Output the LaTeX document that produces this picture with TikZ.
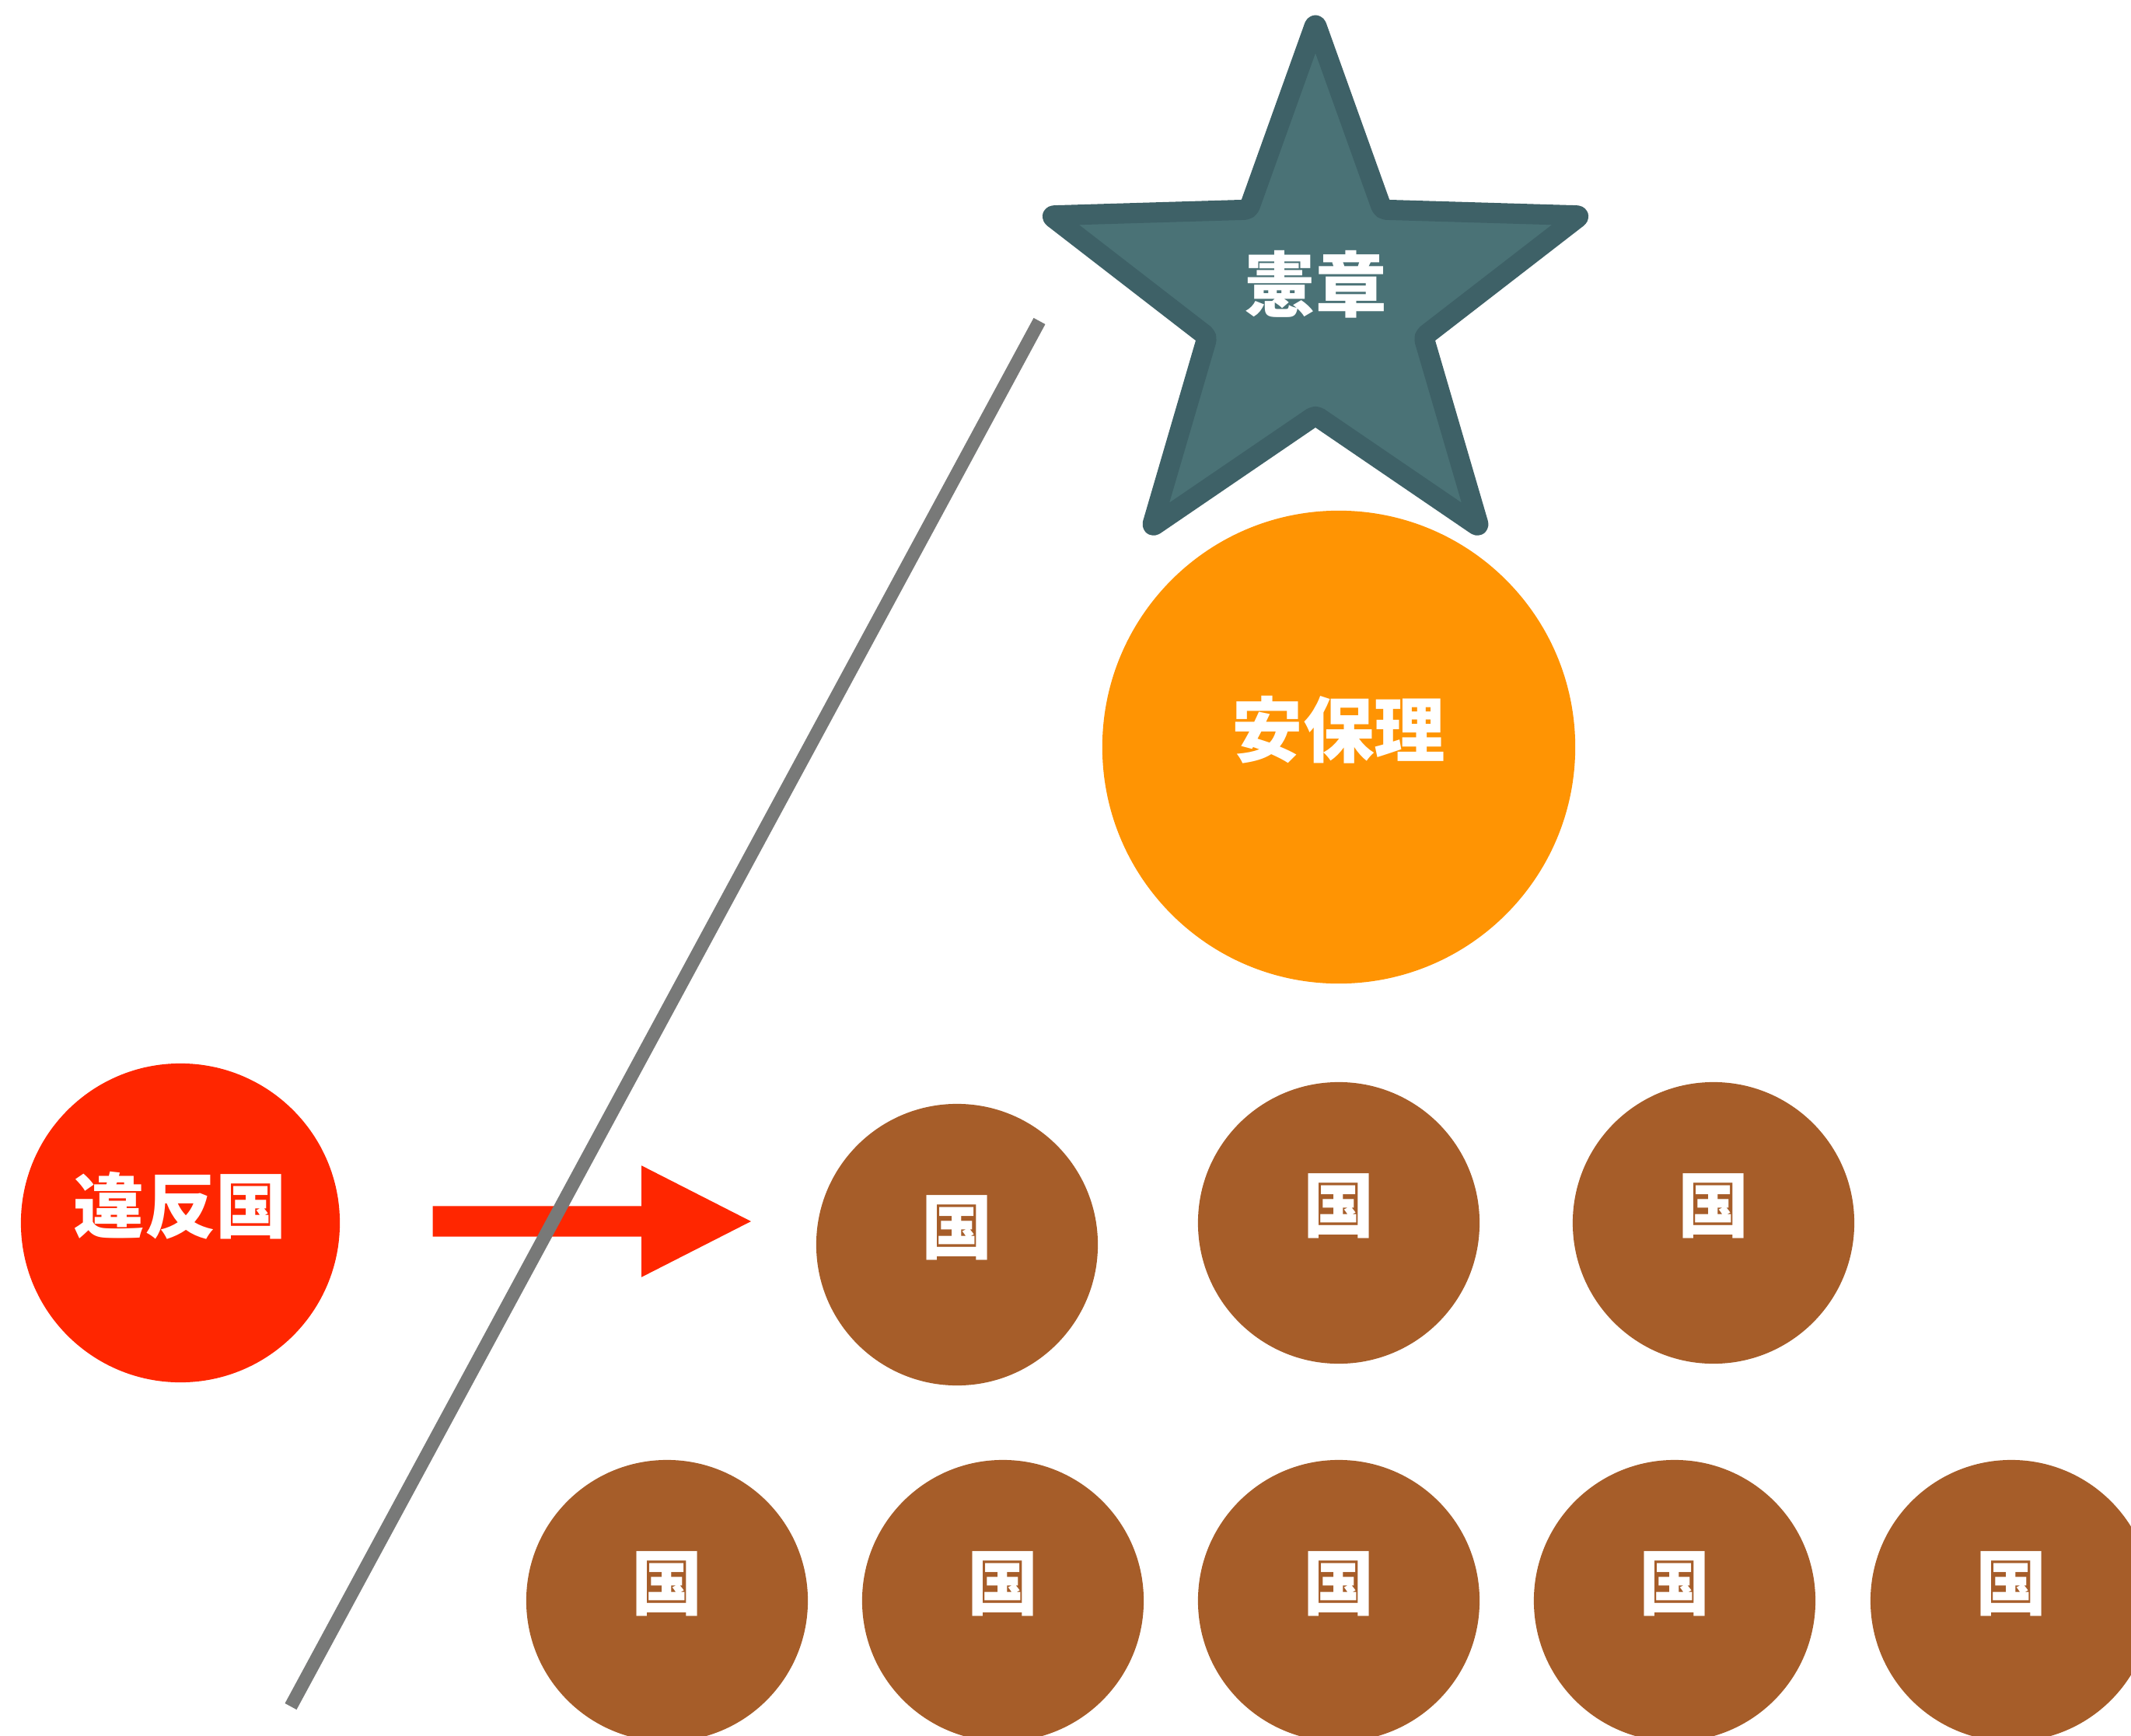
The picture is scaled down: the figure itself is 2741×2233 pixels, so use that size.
\documentclass[tikz,border=0pt]{standalone}
\usepackage{fontspec}
\newfontfamily\jpfont{Noto Sans CJK JP}
\usetikzlibrary{shapes.geometric,shapes.arrows}
\definecolor{starfill}{RGB}{74,114,118}
\definecolor{stardraw}{RGB}{62,97,103}
\definecolor{councilc}{RGB}{255,148,3}
\definecolor{violatorc}{RGB}{255,38,0}
\definecolor{countryc}{RGB}{166,93,41}
\definecolor{linec}{RGB}{120,121,120}
\tikzset{
  jptext/.style={text=white, font=\jpfont\bfseries\fontsize{26}{30}\selectfont, yshift=0.22cm},
  country/.style={circle, fill=countryc, minimum size=3.62cm, inner sep=0pt, label={[jptext]center:国}},
}
\begin{document}
\begin{tikzpicture}[x=0.01cm,y=-0.01cm]
\useasboundingbox (0,0) rectangle (2741,2233);
% charter and council
\node[star, star points=5, star point ratio=2.45, minimum size=7.16cm, fill=starfill, draw=stardraw, line width=0.26cm, line join=round, rounded corners=0.05cm, label={[jptext]center:憲章}] (charter) at (1692,388) {};
\node[circle, fill=councilc, minimum size=6.08cm, inner sep=0pt, label={[jptext]center:安保理}] (council) at (1722,961) {};
% violator
\node[circle, fill=violatorc, minimum size=4.1cm, inner sep=0pt, label={[jptext]center:違反国}] (violator) at (232,1573) {};
% member countries
\node[country] (c1) at (1231,1601) {};
\node[country] (c2) at (1722,1573) {};
\node[country] (c3) at (2204,1573) {};
\foreach \x [count=\i from 4] in {858,1290,1722,2154,2587}
  \node[country] (c\i) at (\x,2059) {};
% arrow and line
\node[single arrow, fill=violatorc, inner xsep=0pt, inner ysep=0.19cm, minimum width=0pt, minimum height=4.09cm, single arrow head extend=0.52cm, single arrow tip angle=54] (push) at (742,1571) {};
\draw[linec, line width=0.17cm] (1337,413) -- (374,2195);
\end{tikzpicture}
\end{document}
